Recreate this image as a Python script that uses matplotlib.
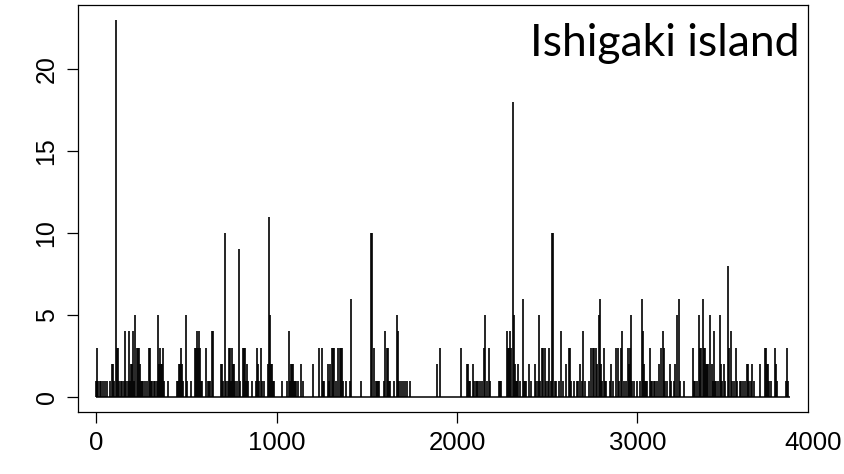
import matplotlib
matplotlib.use("Agg")
import matplotlib.pyplot as plt
import matplotlib.transforms as mtransforms

# Daily counts (only the days with a nonzero count are listed)
day = [
    1, 4, 6, 11, 22, 28, 39, 50, 61, 78, 89, 94, 100, 111, 116, 122, 127, 139, 144, 155,
    161, 166, 177, 183, 188, 194, 199, 205, 211, 216, 227, 233, 238, 244, 249, 255, 260, 271, 283, 294,
    299, 305, 310, 321, 327, 338, 343, 349, 355, 360, 366, 371, 377, 399, 449, 454, 460, 465, 471, 476,
    482, 499, 504, 526, 548, 554, 560, 565, 571, 576, 582, 587, 609, 620, 626, 632, 643, 648, 693, 698,
    704, 715, 720, 731, 737, 742, 748, 753, 759, 765, 770, 781, 792, 798, 814, 820, 825, 831, 837, 842,
    864, 886, 892, 897, 903, 914, 920, 931, 953, 958, 964, 970, 975, 981, 986, 1030, 1058, 1069, 1075, 1080,
    1086, 1091, 1097, 1102, 1108, 1119, 1136, 1147, 1202, 1235, 1252, 1258, 1263, 1285, 1291, 1296, 1307, 1313, 1319, 1330,
    1341, 1352, 1357, 1363, 1368, 1385, 1407, 1413, 1468, 1524, 1529, 1540, 1551, 1557, 1562, 1568, 1596, 1601, 1612, 1618,
    1623, 1629, 1651, 1668, 1673, 1679, 1690, 1701, 1712, 1723, 1740, 1889, 1906, 2022, 2055, 2061, 2066, 2072, 2089, 2094,
    2105, 2111, 2116, 2127, 2138, 2150, 2155, 2166, 2177, 2183, 2233, 2238, 2244, 2277, 2282, 2288, 2294, 2299, 2310, 2316,
    2321, 2327, 2332, 2338, 2349, 2366, 2371, 2377, 2382, 2399, 2410, 2432, 2438, 2449, 2454, 2460, 2471, 2476, 2487, 2493,
    2504, 2510, 2521, 2526, 2532, 2543, 2548, 2565, 2576, 2587, 2604, 2620, 2626, 2632, 2648, 2665, 2670, 2681, 2692, 2698,
    2709, 2731, 2742, 2753, 2759, 2770, 2776, 2787, 2792, 2798, 2803, 2814, 2820, 2825, 2848, 2853, 2864, 2881, 2892, 2897,
    2909, 2914, 2925, 2936, 2947, 2953, 2958, 2964, 2969, 2981, 2997, 3014, 3025, 3030, 3036, 3041, 3047, 3053, 3069, 3075,
    3080, 3091, 3097, 3108, 3119, 3130, 3141, 3147, 3152, 3163, 3180, 3186, 3202, 3208, 3219, 3230, 3235, 3258, 3307, 3313,
    3318, 3330, 3341, 3346, 3352, 3363, 3368, 3374, 3379, 3385, 3390, 3402, 3413, 3418, 3424, 3429, 3435, 3446, 3457, 3463,
    3468, 3479, 3485, 3501, 3507, 3518, 3523, 3535, 3546, 3551, 3568, 3573, 3584, 3595, 3607, 3612, 3618, 3629, 3634, 3645,
    3679, 3706, 3712, 3717, 3723, 3728, 3740, 3762, 3767, 3773, 3823, 3828, 3834,
]
count = [
    1, 1, 3, 1, 1, 1, 1, 1, 1, 1, 2, 2, 1, 23, 3, 3, 1, 1, 1, 1,
    4, 1, 1, 4, 1, 2, 2, 4, 1, 5, 3, 3, 3, 2, 1, 1, 1, 1, 1, 3,
    3, 1, 1, 1, 1, 1, 5, 2, 3, 2, 2, 3, 1, 1, 1, 1, 2, 2, 3, 2,
    1, 5, 1, 1, 3, 3, 4, 3, 4, 3, 1, 1, 3, 1, 1, 1, 4, 4, 2, 2,
    1, 10, 1, 1, 3, 3, 1, 3, 2, 2, 1, 1, 9, 1, 3, 3, 3, 1, 2, 1,
    1, 1, 3, 2, 1, 3, 1, 1, 2, 11, 5, 2, 2, 1, 1, 1, 1, 4, 1, 2,
    2, 2, 1, 1, 1, 1, 2, 1, 2, 3, 3, 1, 1, 2, 1, 2, 3, 3, 3, 1,
    3, 3, 3, 3, 1, 1, 1, 6, 1, 10, 10, 3, 1, 1, 1, 1, 1, 4, 3, 3,
    1, 1, 1, 5, 4, 1, 1, 1, 1, 1, 1, 2, 3, 3, 2, 2, 1, 1, 2, 1,
    1, 1, 1, 1, 1, 3, 5, 1, 3, 1, 1, 1, 1, 4, 3, 3, 4, 3, 18, 5,
    2, 1, 1, 2, 1, 6, 1, 1, 1, 2, 1, 2, 1, 1, 5, 1, 3, 3, 3, 1,
    1, 3, 1, 10, 10, 1, 1, 1, 4, 1, 2, 3, 3, 1, 1, 1, 1, 2, 1, 4,
    1, 1, 3, 3, 3, 3, 2, 5, 6, 2, 1, 3, 1, 1, 1, 2, 1, 3, 3, 1,
    3, 4, 1, 1, 3, 2, 3, 5, 1, 1, 1, 1, 6, 4, 2, 1, 1, 1, 3, 1,
    1, 1, 1, 1, 2, 3, 4, 3, 1, 1, 2, 1, 1, 2, 5, 6, 1, 1, 3, 1,
    1, 1, 5, 3, 3, 6, 3, 3, 2, 2, 2, 5, 2, 1, 4, 1, 1, 1, 5, 2,
    1, 2, 1, 8, 3, 4, 1, 1, 3, 1, 1, 1, 1, 1, 2, 2, 1, 1, 2, 1,
    2, 3, 3, 2, 2, 1, 1, 3, 2, 1, 1, 3, 1,
]
n_days = 3845

x_ticks = [0, 1000, 2000, 3000, 4000]
y_ticks = [0, 5, 10, 15, 20]
title = "Ishigaki island"

plt.rcParams["font.family"] = ["Liberation Sans", "DejaVu Sans"]

fig = plt.figure(figsize=(8.44, 4.74), dpi=100)
ax = fig.add_axes([78 / 844, 1 - 412 / 474, 730 / 844, 407 / 474])

ax.hlines(0, day[0], n_days, color="black", linewidth=1.1)
ax.vlines(day, 0, count, color="black", linewidth=1.2)

x_lo, x_hi = -100, 3945
inside = [t for t in x_ticks if x_lo <= t <= x_hi]
outside = [t for t in x_ticks if t not in inside]

ax.set_xticks(inside)
ax.set_yticks(y_ticks)
ax.set_xticklabels([str(t) for t in inside], fontsize=18.5)
ax.set_yticklabels([str(t) for t in y_ticks], fontsize=18, rotation=90, va="center")
ax.set_xlim(x_lo, x_hi)
ax.set_ylim(-0.92, 23.92)
ax.tick_params(axis="both", direction="out", length=8, width=0.9, pad=6, colors="black")
for s in ax.spines.values():
    s.set_linewidth(0.9)
    s.set_color("black")

# the last axis label sits just past the right edge of the box, kept inside the figure
trans = mtransforms.blended_transform_factory(fig.transFigure, ax.transAxes)
offset = mtransforms.ScaledTranslation(0, -14 / 72, fig.dpi_scale_trans)
for t in outside:
    ax.text(842 / 844, 0, str(t), transform=trans + offset, ha="right", va="top",
            fontsize=18.5, clip_on=False)

ax.text(0.989, 0.955, title, transform=ax.transAxes, ha="right", va="top",
        fontsize=32, family=["Lato", "DejaVu Sans"], color="black")

fig.savefig("out.png", dpi=100)
